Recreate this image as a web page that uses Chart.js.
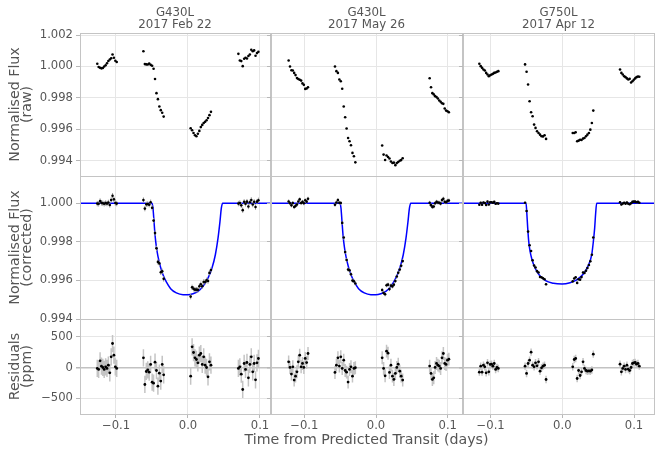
<!DOCTYPE html>
<html><head><meta charset="utf-8">
<script src="https://cdn.jsdelivr.net/npm/chart.js@4.4.1/dist/chart.umd.min.js"></script>
<style>
html,body{margin:0;padding:0;background:#fff;overflow:hidden;}
#fig{position:relative;width:664px;height:456px;overflow:hidden;background:#fff;}
#fig canvas{position:absolute;}
</style></head><body><div id="fig"></div>
<script>
// ---------------- DATA ----------------
const visitTitles = [['G430L', '2017 Feb 22'], ['G430L', '2017 May 26'], ['G750L', '2017 Apr 12']];
const rowTitles = [['Normalised Flux', '(raw)'], ['Normalised Flux', '(corrected)'], ['Residuals', '(ppm)']];
const xLabel = 'Time from Predicted Transit (days)';
const xTickVals = [-0.1, 0.0, 0.1];
const rawTickVals = [0.994, 0.996, 0.998, 1.000, 1.002];
const corTickVals = [0.994, 0.996, 0.998, 1.000];
const resTickVals = [-500, 0, 500];

// Visit 1: G430L 2017 Feb 22
const t1 = [-0.1260, -0.1241, -0.1221, -0.1202, -0.1183, -0.1164, -0.1144, -0.1125, -0.1106, -0.1086, -0.1067, -0.1048, -0.1029, -0.1009, -0.0990,
  -0.0619, -0.0599, -0.0579, -0.0559, -0.0539, -0.0519, -0.0498, -0.0478, -0.0458, -0.0438, -0.0418, -0.0398, -0.0378, -0.0358, -0.0338,
  0.0037, 0.0057, 0.0077, 0.0097, 0.0117, 0.0137, 0.0158, 0.0178, 0.0198, 0.0218, 0.0238, 0.0258, 0.0278, 0.0298, 0.0319,
  0.0700, 0.0720, 0.0740, 0.0760, 0.0780, 0.0799, 0.0819, 0.0839, 0.0859, 0.0879, 0.0899, 0.0919, 0.0938, 0.0958, 0.0978];
const raw1 = [1.00017, 0.99996, 0.99991, 0.99988, 0.99990, 1.00000, 1.00008, 1.00020, 1.00035, 1.00044, 1.00052, 1.00076, 1.00055, 1.00036, 1.00028,
  1.00097, 1.00015, 1.00013, 1.00012, 1.00018, 1.00010, 1.00004, 0.99985, 0.99920, 0.99830, 0.99792, 0.99745, 0.99722, 0.99705, 0.99681,
  0.99607, 0.99594, 0.99577, 0.99562, 0.99556, 0.99572, 0.99590, 0.99614, 0.99628, 0.99640, 0.99648, 0.99658, 0.99672, 0.99690, 0.99711,
  1.00080, 1.00038, 1.00034, 1.00002, 1.00049, 1.00055, 1.00051, 1.00066, 1.00076, 1.00106, 1.00097, 1.00102, 1.00068, 1.00085, 1.00093];
const cor1 = [0.99998, 0.99997, 1.00011, 1.00002, 1.00000, 0.99997, 1.00001, 0.99998, 1.00004, 0.99991, 1.00017, 1.00039, 1.00020, 1.00001, 0.99998,
  1.00016, 0.99972, 0.99994, 0.99996, 0.99992, 1.00005, 0.99976, 0.99910, 0.99845, 0.99766, 0.99696, 0.99688, 0.99642, 0.99647, 0.99608,
  0.99516, 0.99564, 0.99557, 0.99552, 0.99552, 0.99551, 0.99570, 0.99580, 0.99570, 0.99592, 0.99592, 0.99600, 0.99597, 0.99639, 0.99654,
  0.99998, 1.00001, 0.99989, 0.99964, 1.00007, 0.99997, 1.00008, 0.99983, 1.00005, 1.00017, 0.99993, 1.00007, 0.99980, 1.00008, 1.00015];
const res1 = [-16, -32, 108, 22, 0, -32, 11, -16, 38, -87, 173, 389, 200, 11, -16,
  156, -276, -65, -38, -76, 49, -238, -254, 86, -49, -303, -92, -220, 49, -119,
  -141, 335, 243, 157, 130, 76, 200, 227, 49, 173, 38, 0, -151, 92, 38,
  -16, 11, -108, -357, 65, -32, 81, -168, 49, 173, -70, 65, -200, 76, 146];
const model1T = [-0.150, -0.0500, -0.0486, -0.0472, -0.0458, -0.0440, -0.0417, -0.0384, -0.0347, -0.0301, -0.0241, -0.0162, -0.0069, 0.0000, 0.0069, 0.0139, 0.0208, 0.0278, 0.0333, 0.0380, 0.0417, 0.0444, 0.0463, 0.0481, 0.114];
const model1F = [1, 1, 0.99974, 0.99905, 0.99836, 0.99776, 0.99724, 0.99672, 0.99629, 0.99592, 0.99557, 0.99535, 0.99526, 0.99526, 0.99531, 0.99543, 0.99569, 0.99612, 0.99664, 0.99733, 0.99819, 0.99905, 0.99974, 1, 1];

// Visit 2: G430L 2017 May 26
const t2 = [-0.1218, -0.1199, -0.1179, -0.1160, -0.1141, -0.1122, -0.1102, -0.1083, -0.1064, -0.1044, -0.1025, -0.1006, -0.0987, -0.0967, -0.0948,
  -0.0572, -0.0552, -0.0531, -0.0511, -0.0491, -0.0471, -0.0450, -0.0430, -0.0410, -0.0389, -0.0369, -0.0349, -0.0328, -0.0308, -0.0288,
  0.0086, 0.0106, 0.0127, 0.0147, 0.0168, 0.0188, 0.0208, 0.0229, 0.0249, 0.0270, 0.0290, 0.0310, 0.0331, 0.0351, 0.0372,
  0.0748, 0.0767, 0.0786, 0.0805, 0.0824, 0.0844, 0.0863, 0.0882, 0.0901, 0.0920, 0.0939, 0.0958, 0.0977, 0.0997, 0.1016];
const raw2 = [1.00038, 1.00000, 0.99976, 0.99974, 0.99959, 0.99945, 0.99926, 0.99920, 0.99915, 0.99910, 0.99892, 0.99883, 0.99857, 0.99860, 0.99868,
  1.00000, 0.99970, 0.99959, 0.99917, 0.99906, 0.99858, 0.99745, 0.99677, 0.99605, 0.99545, 0.99524, 0.99499, 0.99450, 0.99429, 0.99390,
  0.99497, 0.99439, 0.99405, 0.99433, 0.99424, 0.99414, 0.99395, 0.99386, 0.99388, 0.99372, 0.99385, 0.99392, 0.99400, 0.99404, 0.99416,
  0.99925, 0.99868, 0.99830, 0.99822, 0.99811, 0.99805, 0.99796, 0.99783, 0.99775, 0.99766, 0.99762, 0.99732, 0.99719, 0.99715, 0.99709];
const cor2 = [1.00009, 1.00000, 0.99989, 1.00001, 0.99980, 0.99986, 0.99993, 1.00009, 1.00020, 1.00001, 1.00007, 1.00000, 1.00015, 1.00008, 1.00023,
  0.99992, 1.00004, 1.00016, 1.00002, 1.00001, 0.99898, 0.99822, 0.99747, 0.99706, 0.99656, 0.99652, 0.99632, 0.99599, 0.99596, 0.99584,
  0.99550, 0.99535, 0.99528, 0.99575, 0.99578, 0.99555, 0.99573, 0.99569, 0.99578, 0.99597, 0.99620, 0.99640, 0.99656, 0.99676, 0.99700,
  1.00002, 0.99990, 0.99981, 0.99983, 1.00000, 1.00007, 1.00004, 1.00002, 0.99998, 1.00016, 1.00023, 1.00007, 1.00005, 1.00012, 1.00014];
const res2 = [91, 0, -108, 11, -205, -141, -70, 92, 200, 11, 65, 0, 146, 80, 227,
  -81, 38, 157, 22, 173, -16, 119, -49, -76, -238, -32, 11, -141, -16, -5,
  157, -16, -135, 265, 232, -81, 38, -141, -195, -97, 0, 54, -60, -141, -205,
  22, -97, -195, -168, 0, 65, 38, 22, -16, 157, 227, 65, 49, 119, 135];
const model2T = [-0.146, -0.0502, -0.0488, -0.0474, -0.0460, -0.0442, -0.0419, -0.0386, -0.0349, -0.0303, -0.0243, -0.0164, -0.0071, -0.0002, 0.0067, 0.0137, 0.0206, 0.0276, 0.0332, 0.0380, 0.0418, 0.0446, 0.0466, 0.0484, 0.121];
const model2F = [1, 1, 0.99974, 0.99905, 0.99836, 0.99776, 0.99724, 0.99672, 0.99629, 0.99592, 0.99557, 0.99535, 0.99526, 0.99526, 0.99531, 0.99543, 0.99569, 0.99612, 0.99664, 0.99733, 0.99819, 0.99905, 0.99974, 1, 1];

// Visit 3: G750L 2017 Apr 12
const t3 = [-0.1158, -0.1139, -0.1120, -0.1101, -0.1082, -0.1063, -0.1044, -0.1026, -0.1007, -0.0988, -0.0969, -0.0950, -0.0931, -0.0912, -0.0893,
  -0.0520, -0.0499, -0.0478, -0.0457, -0.0436, -0.0415, -0.0394, -0.0374, -0.0353, -0.0332, -0.0311, -0.0290, -0.0269, -0.0248, -0.0227,
  0.0145, 0.0166, 0.0186, 0.0207, 0.0227, 0.0248, 0.0268, 0.0289, 0.0309, 0.0330, 0.0350, 0.0371, 0.0391, 0.0412, 0.0432,
  0.0805, 0.0824, 0.0843, 0.0863, 0.0882, 0.0901, 0.0920, 0.0939, 0.0959, 0.0978, 0.0997, 0.1016, 0.1035, 0.1055, 0.1074];
const raw3 = [1.00017, 1.00002, 0.99991, 0.99981, 0.99974, 0.99959, 0.99949, 0.99938, 0.99944, 0.99949, 0.99953, 0.99959, 0.99961, 0.99966, 0.99970,
  1.00013, 0.99966, 0.99885, 0.99779, 0.99709, 0.99683, 0.99630, 0.99609, 0.99588, 0.99577, 0.99566, 0.99556, 0.99555, 0.99562, 0.99539,
  0.99577, 0.99577, 0.99581, 0.99524, 0.99528, 0.99534, 0.99532, 0.99541, 0.99545, 0.99556, 0.99566, 0.99577, 0.99598, 0.99640, 0.99719,
  0.99981, 0.99959, 0.99949, 0.99938, 0.99932, 0.99924, 0.99917, 0.99921, 0.99898, 0.99906, 0.99915, 0.99924, 0.99932, 0.99936, 0.99934];
const cor3 = [0.99992, 1.00002, 0.99992, 1.00004, 1.00001, 0.99991, 1.00008, 0.99993, 1.00005, 1.00005, 1.00002, 1.00007, 0.99997, 1.00000, 0.99998,
  1.00002, 0.99960, 0.99853, 0.99782, 0.99752, 0.99704, 0.99677, 0.99667, 0.99648, 0.99641, 0.99618, 0.99616, 0.99611, 0.99606, 0.99580,
  0.99595, 0.99610, 0.99616, 0.99587, 0.99606, 0.99604, 0.99617, 0.99641, 0.99639, 0.99650, 0.99664, 0.99680, 0.99699, 0.99733, 0.99822,
  1.00005, 0.99993, 0.99998, 1.00002, 0.99997, 1.00004, 0.99997, 0.99995, 1.00000, 1.00007, 1.00008, 1.00008, 1.00005, 1.00007, 1.00002];
const res3 = [-76, 22, -76, 38, 11, -87, 76, -70, 49, 54, 22, 65, -32, 0, -16,
  22, -97, 65, 119, 249, 38, 11, 76, 27, 92, -60, -5, 22, 38, -195,
  11, 130, 146, -179, -49, -130, -70, 92, -16, -49, -60, -55, -60, -40, 216,
  54, -70, -16, 22, -32, 38, -27, -49, 0, 65, 76, 81, 54, 65, 22];
const model3T = [-0.138, -0.0506, -0.0497, -0.0483, -0.0469, -0.0450, -0.0423, -0.0381, -0.0325, -0.0241, -0.0125, -0.0003, 0.0107, 0.0200, 0.0293, 0.0363, 0.0410, 0.0433, 0.0451, 0.0465, 0.0479, 0.128];
const model3F = [1, 1, 0.99957, 0.99871, 0.99802, 0.99750, 0.99707, 0.99664, 0.99629, 0.99600, 0.99585, 0.99581, 0.99588, 0.99603, 0.99633, 0.99678, 0.99733, 0.99802, 0.99871, 0.99948, 1, 1];

// residual uncertainty per visit (ppm)
const errPpm = [140, 105, 60];

// ---------------- LAYOUT / STYLE ----------------
const FAMILY = "'DejaVu Sans', 'Liberation Sans', sans-serif";
const TEXT = '#555555';
const GRID = '#e6e6e6';
const TICKC = '#b8b8b8';
const FRAME = '#c4c4c4';
const colLeft = [80, 271, 463], colW = [190, 191, 191];
const rowTop = [33, 176, 319], rowH = [143, 143, 95];
const xMin = [-0.150, -0.1464, -0.1386], xMax = [0.1139, 0.1199, 0.1279];
const yMin = [0.99303, 0.99400, -755], yMax = [1.00213, 1.00141, 787];

const visits = [
  {t: t1, raw: raw1, cor: cor1, res: res1, mT: model1T, mF: model1F},
  {t: t2, raw: raw2, cor: cor2, res: res2, mT: model2T, mF: model2F},
  {t: t3, raw: raw3, cor: cor3, res: res3, mT: model3T, mF: model3F}
];

const pts = (xs, ys) => xs.map((x, i) => ({x: x, y: ys[i]}));
function errBars(xs, ys, e) {
  const out = [];
  xs.forEach((x, i) => { out.push({x: x, y: ys[i] - e}, {x: x, y: ys[i] + e}, {x: x, y: null}); });
  return out;
}
const minus = v => (v < 0 ? '\u2212' : '') + Math.abs(v);

const framePlugin = {
  id: 'frame',
  afterDraw(chart) {
    const {ctx, chartArea: a} = chart;
    ctx.save();
    ctx.strokeStyle = FRAME; ctx.lineWidth = 1;
    ctx.strokeRect(Math.round(a.left) + 0.5, Math.round(a.top) + 0.5, Math.round(a.width), Math.round(a.height));
    ctx.restore();
  }
};

const fig = document.getElementById('fig');

function panel(col, row) {
  const v = visits[col];
  const padL = col === 0 ? 80 : 40, padR = 40;
  const padT = row === 0 ? 0 : 14;
  const topBox = row === 0 ? 33 : 0;
  const hasXTitle = (row === 2 && col === 1);
  const xAxisH = row === 2 ? (hasXTitle ? 18 : 20) : 14;
  const titleH = hasXTitle ? 24 : 0;
  const W = colW[col] + padL + padR;
  const H = topBox + padT + rowH[row] + xAxisH + titleH;
  const cv = document.createElement('canvas');
  cv.width = W; cv.height = H;
  cv.style.width = W + 'px'; cv.style.height = H + 'px';
  cv.style.left = (colLeft[col] - padL) + 'px';
  cv.style.top = (rowTop[row] - padT - topBox) + 'px';
  fig.appendChild(cv);

  const datasets = [];
  if (row === 0) {
    datasets.push({data: pts(v.t, v.raw), pointRadius: 1.3, pointBackgroundColor: '#000', pointBorderWidth: 0});
  } else if (row === 1) {
    datasets.push({data: pts(v.t, v.cor), pointRadius: 1.3, pointBackgroundColor: '#000', pointBorderWidth: 0});
    datasets.push({data: errBars(v.t, v.cor, errPpm[col] * 1e-6), showLine: true, spanGaps: false, pointRadius: 0, borderColor: '#9a9a9a', borderWidth: 1});
    datasets.push({data: pts(v.mT, v.mF), showLine: true, pointRadius: 0, borderColor: '#0000ff', borderWidth: 1.5, cubicInterpolationMode: 'monotone'});
  } else {
    datasets.push({data: pts(v.t, v.res), pointRadius: 1.4, pointBackgroundColor: '#000', pointBorderWidth: 0});
    datasets.push({data: errBars(v.t, v.res, errPpm[col]), showLine: true, spanGaps: false, pointRadius: 0, borderColor: '#c4c4c4', borderWidth: 1.5});
  }

  const yTicks = row === 0 ? rawTickVals : (row === 1 ? corTickVals : resTickVals);
  const yFmt = row === 2 ? minus : (val => val.toFixed(3));

  new Chart(cv, {
    type: 'scatter',
    data: {datasets: datasets},
    plugins: [framePlugin],
    options: {
      responsive: false,
      animation: false,
      events: [],
      layout: {padding: {top: padT, left: 0, right: 0, bottom: 0}},
      plugins: {
        legend: {display: false},
        tooltip: {enabled: false},
        title: row === 0 ? {
          display: true, position: 'top', fullSize: false, text: visitTitles[col], color: TEXT,
          font: {family: FAMILY, size: 11.8, weight: 'normal', lineHeight: 0.99},
          padding: {top: 7.2, bottom: 2.4}
        } : (hasXTitle ? {
          display: true, position: 'bottom', fullSize: true, text: xLabel, color: TEXT,
          font: {family: FAMILY, size: 14.2, weight: 'normal', lineHeight: 1.2},
          padding: {top: 0, bottom: 7}
        } : {display: false})
      },
      scales: {
        x: {
          type: 'linear', position: 'bottom', min: xMin[col], max: xMax[col],
          afterBuildTicks: s => { s.ticks = xTickVals.map(val => ({value: val})); },
          afterFit: s => { s.height = xAxisH; },
          grid: {color: GRID, lineWidth: 1, tickLength: 4, tickColor: TICKC, drawTicks: true},
          border: {display: false},
          ticks: {display: row === 2, autoSkip: false, maxRotation: 0, padding: 1, color: TEXT,
            font: {family: FAMILY, size: 11.6}, callback: val => (val < 0 ? '\u2212' : '') + Math.abs(val).toFixed(1)}
        },
        y: {
          type: 'linear', position: 'left', min: yMin[row], max: yMax[row],
          afterBuildTicks: s => { s.ticks = yTicks.map(val => ({value: val})); },
          afterFit: s => { s.width = padL; },
          grid: {
            color: c => (row === 2 && c.tick && c.tick.value === 0) ? '#c2c2c2' : GRID,
            lineWidth: c => (row === 2 && c.tick && c.tick.value === 0) ? 1.5 : 1,
            tickLength: 4, tickColor: TICKC, drawTicks: true
          },
          border: {display: false},
          ticks: {display: col === 0, autoSkip: false, padding: 3, color: TEXT,
            font: {family: FAMILY, size: 11.6}, callback: val => yFmt(val)},
          title: {display: col === 0, text: rowTitles[row], color: TEXT,
            font: {family: FAMILY, size: 14.2, weight: 'normal', lineHeight: 0.86},
            padding: {top: 9.2, bottom: 0}}
        },
        y2: {
          type: 'linear', position: 'right', display: true,
          afterFit: s => { s.width = padR; },
          grid: {display: false, drawTicks: false},
          ticks: {display: false},
          border: {display: false}
        }
      }
    }
  });
}

for (let r = 0; r < 3; r++) for (let c = 0; c < 3; c++) panel(c, r);
</script>
</body></html>
